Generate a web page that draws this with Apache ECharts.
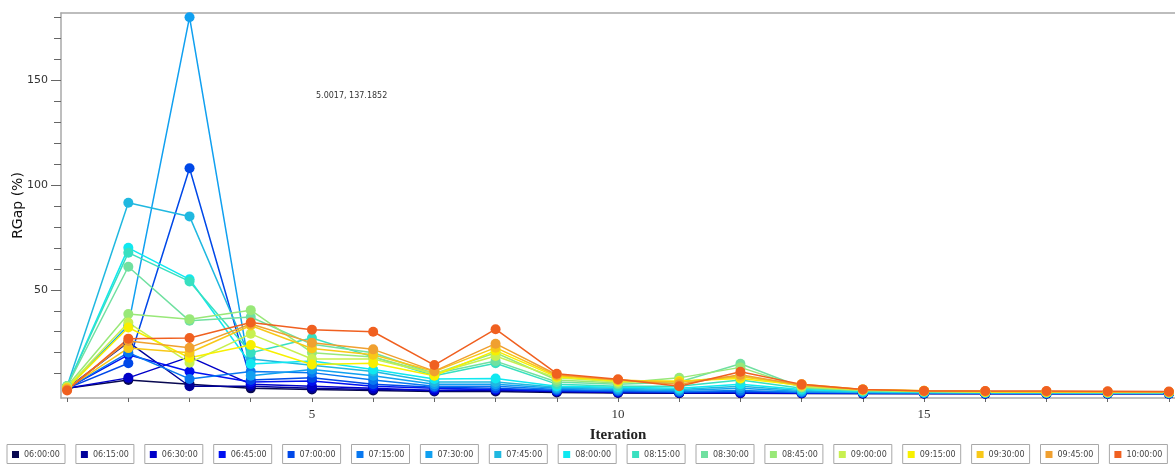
<!DOCTYPE html>
<html>
<head>
<meta charset="utf-8">
<script src="https://cdn.jsdelivr.net/npm/echarts@6/dist/echarts.min.js"></script>
<style>
  html, body { margin: 0; padding: 0; background: #fff; }
  #chart { width: 1175px; height: 466px; }
</style>
</head>
<body>
<div id="chart"></div>
<script>
  // iterations on the x axis
  var iterations = [1, 2, 3, 4, 5, 6, 7, 8, 9, 10, 11, 12, 13, 14, 15, 16, 17, 18, 19];
  var times = ['06:00:00', '06:15:00', '06:30:00', '06:45:00', '07:00:00', '07:15:00',
               '07:30:00', '07:45:00', '08:00:00', '08:15:00', '08:30:00', '08:45:00',
               '09:00:00', '09:15:00', '09:30:00', '09:45:00', '10:00:00'];
  var colors = ['#080850', '#00009a', '#0000c8', '#0010f0', '#0048e8', '#0878f0',
                '#10a0f0', '#20b8e0', '#10e8f0', '#38e0c0', '#70e0a0', '#98e878',
                '#c8f050', '#f8f000', '#f8c818', '#f0a030', '#f06020'];

  // RGap (%) per departure time, one value per iteration
  var gap0600 = [3, 7, 5, 3, 2.5, 2, 1.5, 1.5, 1, 0.8, 0.7, 0.7, 0.6, 0.5, 0.5, 0.5, 0.5, 0.5, 0.5];
  var gap0615 = [3, 25, 4, 4, 3, 2.5, 2, 2, 1.5, 1, 0.8, 0.8, 0.7, 0.6, 0.6, 0.5, 0.5, 0.5, 0.5];
  var gap0630 = [3, 8, 18, 5, 4, 3, 2, 2.5, 1.5, 1, 1, 1, 0.8, 0.7, 0.6, 0.6, 0.6, 0.5, 0.5];
  var gap0645 = [3, 19, 11, 6, 6.5, 4, 3, 2.5, 2, 1.5, 1, 1, 0.8, 0.7, 0.7, 0.6, 0.6, 0.6, 0.5];
  var gap0700 = [3, 15, 108, 7, 8, 5, 3.5, 3, 2, 1.5, 1.2, 1.5, 1, 0.8, 0.7, 0.7, 0.6, 0.6, 0.6];
  var gap0715 = [3, 20, 7.5, 11, 10.5, 7, 4, 4, 2.5, 2, 1.5, 2, 1.2, 1, 0.8, 0.8, 0.7, 0.7, 0.6];
  var gap0730 = [3, 33, 180, 9, 12, 9, 5, 5, 3, 2.5, 2, 3, 1.5, 1, 0.9, 0.8, 0.8, 0.7, 0.7];
  var gap0745 = [4, 91.5, 85, 17, 14, 11, 6, 6, 3.5, 3, 2.5, 4, 2, 1.2, 1, 0.9, 0.9, 0.8, 0.8];
  var gap0800 = [4, 70, 55, 14.6, 16, 12, 7.5, 7.7, 4, 3.5, 3, 5, 2.5, 1.5, 1.2, 1, 1, 0.9, 0.9];
  var gap0815 = [4, 67.7, 54, 20, 27, 18, 9, 15, 5, 4, 4, 7, 3, 1.7, 1.3, 1.1, 1, 1, 1];
  var gap0830 = [4, 61, 35.2, 37, 24, 20, 10, 16, 6, 5, 6, 14.7, 3.5, 2, 1.5, 1.2, 1.1, 1, 1];
  var gap0845 = [4, 38.5, 36, 40.3, 20, 18, 10, 20, 7, 5.5, 8, 13, 3.5, 2, 1.5, 1.2, 1.2, 1.1, 1];
  var gap0900 = [3.5, 34.4, 15.2, 29, 17, 17, 10, 18.4, 8, 6, 6, 9, 4, 2.2, 1.6, 1.3, 1.2, 1.1, 1.1];
  var gap0915 = [3, 32, 17.6, 23.7, 14.4, 15, 9, 21, 8.5, 6.5, 6.5, 7.7, 4.5, 2.3, 1.7, 1.4, 1.3, 1.2, 1.1];
  var gap0930 = [3, 22.2, 20, 33, 22, 19, 11, 22.4, 9, 7, 6, 8.5, 5, 2.5, 1.8, 1.5, 1.4, 1.3, 1.2];
  var gap0945 = [2.5, 25.6, 22.4, 33.7, 24.8, 21.6, 11.2, 24.3, 9.5, 7, 5, 9.5, 4.5, 2.5, 1.8, 1.6, 1.5, 1.4, 1.3];
  var gap1000 = [2, 26.7, 27, 34.4, 31, 30, 14.1, 31.2, 10, 7.3, 4, 10.9, 4.9, 2.5, 1.7, 1.7, 1.7, 1.6, 1.5];

  var allGaps = [gap0600, gap0615, gap0630, gap0645, gap0700, gap0715, gap0730, gap0745,
                 gap0800, gap0815, gap0830, gap0845, gap0900, gap0915, gap0930, gap0945, gap1000];

  var yLabelValues = [50, 100, 150];
  var yMinorValues = [10, 20, 30, 40, 60, 70, 80, 90, 110, 120, 130, 140, 160, 170, 180];
  var xLabelValues = [5, 10, 15];

  var series = [];
  var rich = {
    t: { fontFamily: 'DejaVu Sans', fontSize: 8, color: '#444', width: 36, padding: [0, 0, 0, 5] }
  };
  for (var s = 0; s < allGaps.length; s++) {
    var pts = [];
    for (var i = 0; i < iterations.length; i++) {
      pts.push([iterations[i], allGaps[s][i]]);
    }
    rich['i' + s] = { width: 7, height: 7, backgroundColor: colors[s] };
    series.push({
      name: times[s],
      type: 'line',
      data: pts,
      symbol: 'circle',
      symbolSize: 10,
      lineStyle: { width: 1.5, color: colors[s] },
      itemStyle: { color: colors[s] },
      emphasis: { disabled: true }
    });
  }

  var axisGray = '#a8a8a8';
  var myChart = echarts.init(document.getElementById('chart'));
  myChart.setOption({
    animation: false,
    backgroundColor: '#fff',
    color: colors,
    grid: { left: 61, top: 13, right: 0, bottom: 68, show: false, outerBoundsMode: 'none' },
    legend: {
      left: 2,
      bottom: 2,
      padding: 0,
      width: 1175,
      itemGap: 5.4,
      itemWidth: 0,
      itemHeight: 0,
      icon: 'none',
      data: times,
      formatter: function (name) {
        var k = times.indexOf(name);
        return '{i' + k + '| }{t|' + name + '}';
      },
      textStyle: {
        borderColor: axisGray,
        borderWidth: 1,
        padding: [6, 5, 5, 5],
        rich: rich
      }
    },
    xAxis: [{
      type: 'value',
      min: 0.9,
      max: 19.1,
      name: 'Iteration',
      nameLocation: 'middle',
      nameGap: 30,
      nameTextStyle: { fontFamily: 'Liberation Serif', fontWeight: 'bold', fontSize: 15, color: '#222' },
      axisLine: { onZero: false, lineStyle: { color: axisGray, width: 1.5 } },
      axisTick: { show: true, length: 4, customValues: iterations, lineStyle: { color: '#666' } },
      axisLabel: { customValues: xLabelValues, fontFamily: 'Liberation Serif', fontSize: 13, color: '#333', margin: 10 },
      splitLine: { show: false }
    }, {
      // top frame line only
      type: 'value',
      position: 'top',
      min: 0.9,
      max: 19.1,
      axisLine: { show: true, onZero: false, lineStyle: { color: axisGray, width: 1.5 } },
      axisTick: { show: false },
      axisLabel: { show: false },
      splitLine: { show: false }
    }],
    yAxis: [{
      type: 'value',
      min: -1.6,
      max: 182,
      name: 'RGap (%)',
      nameLocation: 'middle',
      nameGap: 36,
      nameMoveOverlap: false,
      nameTextStyle: { fontFamily: 'DejaVu Sans', fontSize: 14, color: '#111' },
      axisLine: { show: true, lineStyle: { color: axisGray, width: 1.5 } },
      axisTick: { show: true, length: 10, customValues: yLabelValues, lineStyle: { color: '#666' } },
      axisLabel: { customValues: yLabelValues, fontFamily: 'DejaVu Sans', fontSize: 11, color: '#333', margin: 13 },
      splitLine: { show: false }
    }, {
      type: 'value',
      position: 'left',
      min: -1.6,
      max: 182,
      axisLine: { show: false },
      axisTick: { show: true, length: 7, customValues: yMinorValues, lineStyle: { color: '#666' } },
      axisLabel: { show: false },
      splitLine: { show: false }
    }],
    graphic: [{
      type: 'text',
      left: 316,
      top: 92,
      style: { text: '5.0017, 137.1852', fontFamily: 'DejaVu Sans', fontSize: 8, fill: '#333' }
    }],
    series: series
  });
</script>
</body>
</html>
